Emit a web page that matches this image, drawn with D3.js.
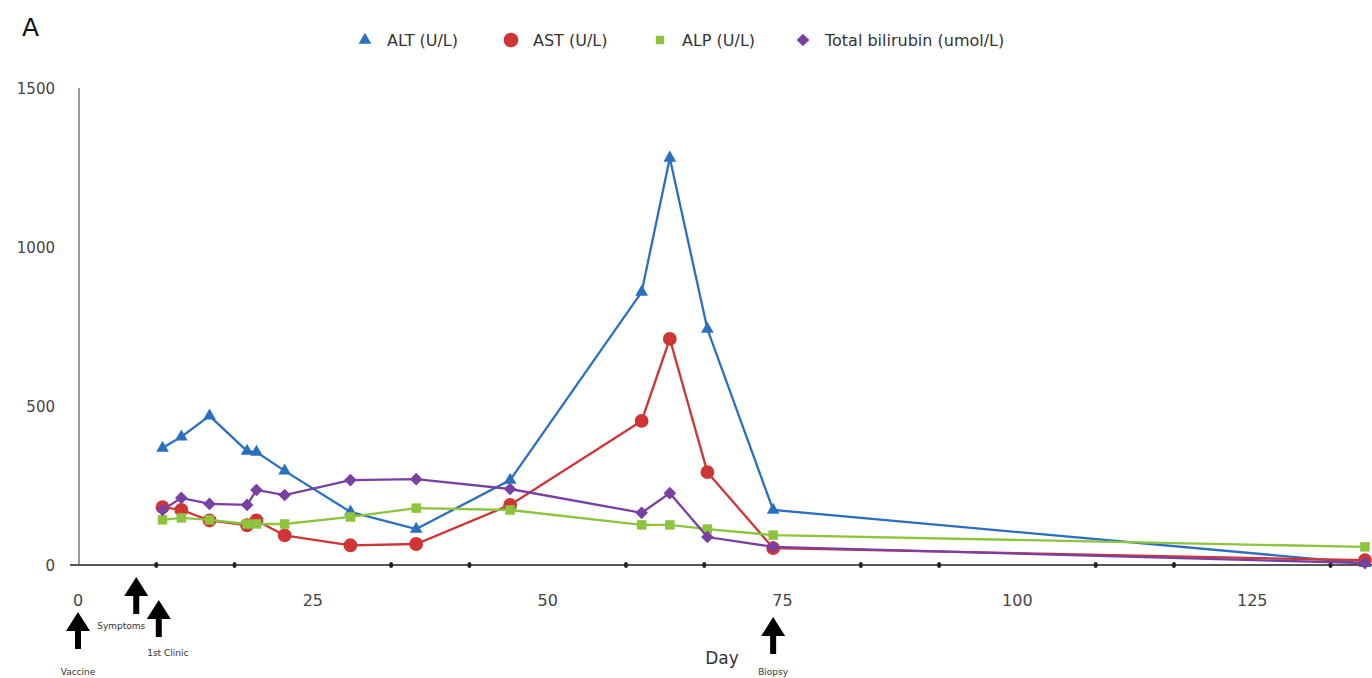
<!DOCTYPE html>
<html>
<head>
<meta charset="utf-8">
<script src="https://cdn.jsdelivr.net/npm/d3@7"></script>
<style>
  body { margin: 0; background: #fff; }
  svg text { font-family: "DejaVu Sans", "Liberation Sans", Arial, sans-serif; }
</style>
</head>
<body>
<div id="chart"></div>
<script>
// data: days since vaccination and lab values
var days      = [9, 11, 14, 18, 19, 22, 29, 36, 46, 60, 63, 67, 74, 137];
var alt       = [368, 403, 469, 358, 355, 296, 167, 113, 267, 858, 1280, 742, 173, 5];
var ast       = [182, 173, 140, 125, 140, 93, 62, 66, 189, 453, 711, 292, 53, 15];
var alp       = [142, 148, 142, 129, 129, 129, 151, 179, 173, 126, 126, 113, 94, 57];
var bilirubin = [173, 211, 192, 189, 236, 220, 267, 270, 239, 164, 226, 88, 57, 6];

var xTickLabels = [0, 25, 50, 75, 100, 125];
var yTickLabels = [0, 500, 1000, 1500];

var eventDays   = [0, 6.2, 8.6, 74];
var eventLabels = ["Vaccine", "Symptoms", "1st Clinic", "Biopsy"];

var svgWidth = 1372, svgHeight = 678;

var svg = d3.select("#chart").append("svg")
	.attr("width", svgWidth)
	.attr("height", svgHeight);

var x = d3.scaleLinear().domain([0, 137.75]).range([78, 1372]);
var y = d3.scaleLinear().domain([0, 1500]).range([565, 88]);

// panel letter
svg.append("text").attr("x", 22).attr("y", 36)
	.attr("font-family", "Liberation Sans, Arial, sans-serif")
	.attr("font-size", 25).attr("fill", "#111").text("A");

// y axis
svg.append("line")
	.attr("x1", x(0) + 1).attr("x2", x(0) + 1)
	.attr("y1", y(1500)).attr("y2", y(0))
	.attr("stroke", "#777").attr("stroke-width", 1.5);
svg.selectAll(".ylab").data(yTickLabels).enter().append("text")
	.attr("class", "ylab")
	.attr("x", 55).attr("y", d => y(d) + 6)
	.attr("text-anchor", "end")
	.attr("font-size", 15).attr("fill", "#444")
	.text(d => d);

// x axis with dot ticks every 25/3 days (none under the labels)
svg.append("line")
	.attr("x1", 70).attr("x2", 1372)
	.attr("y1", y(0)).attr("y2", y(0))
	.attr("stroke", "#555").attr("stroke-width", 2);
var minorTicks = d3.range(1, 17).filter(k => k % 3 != 0).map(k => k * 25 / 3);
svg.selectAll(".xtick").data(minorTicks).enter().append("ellipse")
	.attr("class", "xtick")
	.attr("cx", d => x(d)).attr("cy", y(0))
	.attr("rx", 2).attr("ry", 3).attr("fill", "#222");
svg.selectAll(".xlab").data(xTickLabels).enter().append("text")
	.attr("class", "xlab")
	.attr("x", d => x(d)).attr("y", 606)
	.attr("text-anchor", "middle")
	.attr("font-size", 16).attr("fill", "#444")
	.text(d => d);
svg.append("text").attr("x", 722).attr("y", 664)
	.attr("text-anchor", "middle").attr("font-size", 17).attr("fill", "#333")
	.text("Day");

// event arrows below the axis
var arrowTop = [612, 577, 600, 617];
var textY    = [675, 629, 656, 675];
var textDx   = [0, -15, 9, 0];
eventDays.forEach((d, i) => {
	var cx = x(d), t = arrowTop[i];
	svg.append("path")
		.attr("d", `M${cx},${t} L${cx - 12},${t + 19} L${cx - 3},${t + 19} L${cx - 3},${t + 37} L${cx + 3},${t + 37} L${cx + 3},${t + 19} L${cx + 12},${t + 19} Z`)
		.attr("fill", "#000");
	svg.append("text")
		.attr("x", cx + textDx[i]).attr("y", textY[i])
		.attr("text-anchor", "middle")
		.attr("font-size", 9).attr("fill", "#333")
		.text(eventLabels[i]);
});

// series (rot = rotate the square into a diamond)
var series = [
	{ name: "ALT (U/L)", values: alt, color: "#2a6fc0", shape: d3.symbolTriangle, size: 70, rot: 0 },
	{ name: "AST (U/L)", values: ast, color: "#cf3535", shape: d3.symbolCircle, size: 150, rot: 0 },
	{ name: "ALP (U/L)", values: alp, color: "#8cc43c", shape: d3.symbolSquare, size: 90, rot: 0 },
	{ name: "Total bilirubin (umol/L)", values: bilirubin, color: "#7a3fa3", shape: d3.symbolSquare, size: 80, rot: 45 }
];

var line = d3.line().x(d => x(d[0])).y(d => y(d[1]));

series.forEach(s => {
	var pts = days.map((d, i) => [d, s.values[i]]);
	svg.append("path").datum(pts)
		.attr("d", line)
		.attr("fill", "none")
		.attr("stroke", s.color)
		.attr("stroke-width", 2.3);
	svg.selectAll(null).data(pts).enter().append("path")
		.attr("transform", d => `translate(${x(d[0])},${y(d[1])}) rotate(${s.rot})`)
		.attr("d", d3.symbol().type(s.shape).size(s.size))
		.attr("fill", s.color);
});

// legend
var legendX = [365, 511, 660, 803];
var legendSizes = [70, 170, 70, 80];
series.forEach((s, i) => {
	svg.append("path")
		.attr("transform", `translate(${legendX[i]},40) rotate(${s.rot})`)
		.attr("d", d3.symbol().type(s.shape).size(legendSizes[i]))
		.attr("fill", s.color);
	svg.append("text")
		.attr("x", legendX[i] + 22).attr("y", 46)
		.attr("font-size", 16).attr("fill", "#333")
		.text(s.name);
});
</script>
</body>
</html>
